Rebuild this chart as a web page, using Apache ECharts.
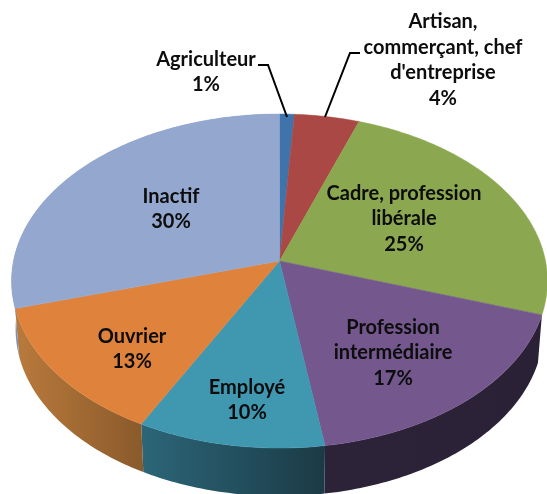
<!DOCTYPE html>
<html>
<head>
<meta charset="utf-8">
<style>
  html, body { margin: 0; padding: 0; background: #fff; }
  #chart { width: 547px; height: 494px; }
</style>
<script src="https://cdn.jsdelivr.net/npm/echarts@6/dist/echarts.min.js"></script>
</head>
<body>
<div id="chart"></div>
<script>
const categories = ['Agriculteur', 'Artisan,\ncommerçant, chef\nd\'entreprise', 'Cadre, profession\nlibérale', 'Profession\nintermédiaire', 'Employé', 'Ouvrier', 'Inactif']
const shares = [1.0, 4.4, 24.7, 17.49, 10.1, 12.8, 29.51]

const topColors = ['#3F73AC', '#A94844', '#8BA850', '#73578D', '#4097B0', '#DF823B', '#94A8CF']
const wallFrom = ['#2F5680', '#7E3633', '#687E3C', '#2C2339', '#2C6678', '#B97A3C', '#7F90B2']
const wallTo = ['#2F5680', '#7E3633', '#687E3C', '#2A2136', '#1B3A46', '#8A5A2B', '#7F90B2']

// label centre and leader lines, in pixels
const labelAt = [[206, 72], [443, 60], [404, 219], [393, 353], [247, 400], [132, 349], [171, 209]]
const leaders = { 0: [[258, 65], [268, 65], [287, 117]], 1: [[360, 53], [350, 53], [325, 117]] }

// perspective view of the pie disc
const cx = 279.5, cy = 261, rx = 266, ry = 164.6, tilt = 0.12, depth = 48, wallScale = 0.985

const project = (share, scale, drop) => {
  const a = share / 100 * Math.PI * 2
  const X = Math.sin(a), Y = -Math.cos(a)
  const d = 1 - tilt * Y
  return [cx + rx * scale * X / d, cy + drop + ry * Y / d]
}

const rim = (from, to, scale, drop) => {
  const pts = []
  const n = Math.max(2, Math.ceil((to - from) * 4))
  for (let i = 0; i <= n; i++) pts.push(project(from + (to - from) * i / n, scale, drop))
  return pts
}

let cum = 0
const spans = shares.map(v => { const s = [cum, cum + v]; cum += v; return s })

const chart = echarts.init(document.getElementById('chart'))
chart.setOption({
  backgroundColor: '#fff',
  animation: false,
  series: [
    {
      // side walls: only slices on the front half show one
      type: 'custom',
      coordinateSystem: 'none',
      silent: true,
      z: 1,
      data: spans,
      renderItem: (params, api) => {
        const i = params.dataIndex
        if (api.value(0) < 25) return null
        const top = rim(api.value(0), api.value(1), 1, 0)
        const bottom = rim(api.value(0), api.value(1), wallScale, depth).reverse()
        const fill = new echarts.graphic.LinearGradient(0, 0, 1, 0, [
          { offset: 0, color: wallFrom[i] },
          { offset: 1, color: wallTo[i] }
        ])
        return {
          type: 'polygon',
          shape: { points: top.concat(bottom) },
          style: { fill: fill, stroke: null }
        }
      }
    },
    {
      type: 'custom',
      coordinateSystem: 'none',
      silent: true,
      z: 2,
      data: spans,
      renderItem: (params, api) => {
        const i = params.dataIndex
        return {
          type: 'polygon',
          shape: { points: [[cx, cy]].concat(rim(api.value(0), api.value(1), 1, 0)) },
          style: { fill: topColors[i], stroke: topColors[i], lineWidth: 0.5 }
        }
      }
    },
    {
      // labels and leader lines
      type: 'custom',
      coordinateSystem: 'none',
      silent: true,
      z: 3,
      data: shares,
      renderItem: (params, api) => {
        const i = params.dataIndex
        const children = [{
          type: 'text',
          style: {
            x: labelAt[i][0],
            y: labelAt[i][1],
            text: categories[i] + '\n' + Math.round(api.value(0)) + '%',
            align: 'center',
            verticalAlign: 'middle',
            font: 'bold 20px Lato',
            lineHeight: 25.5,
            fill: '#0d0d0d'
          }
        }]
        if (leaders[i]) {
          children.push({
            type: 'polyline',
            shape: { points: leaders[i] },
            style: { stroke: '#000', lineWidth: 2, fill: null }
          })
        }
        return { type: 'group', children: children }
      }
    }
  ]
})
</script>
</body>
</html>
